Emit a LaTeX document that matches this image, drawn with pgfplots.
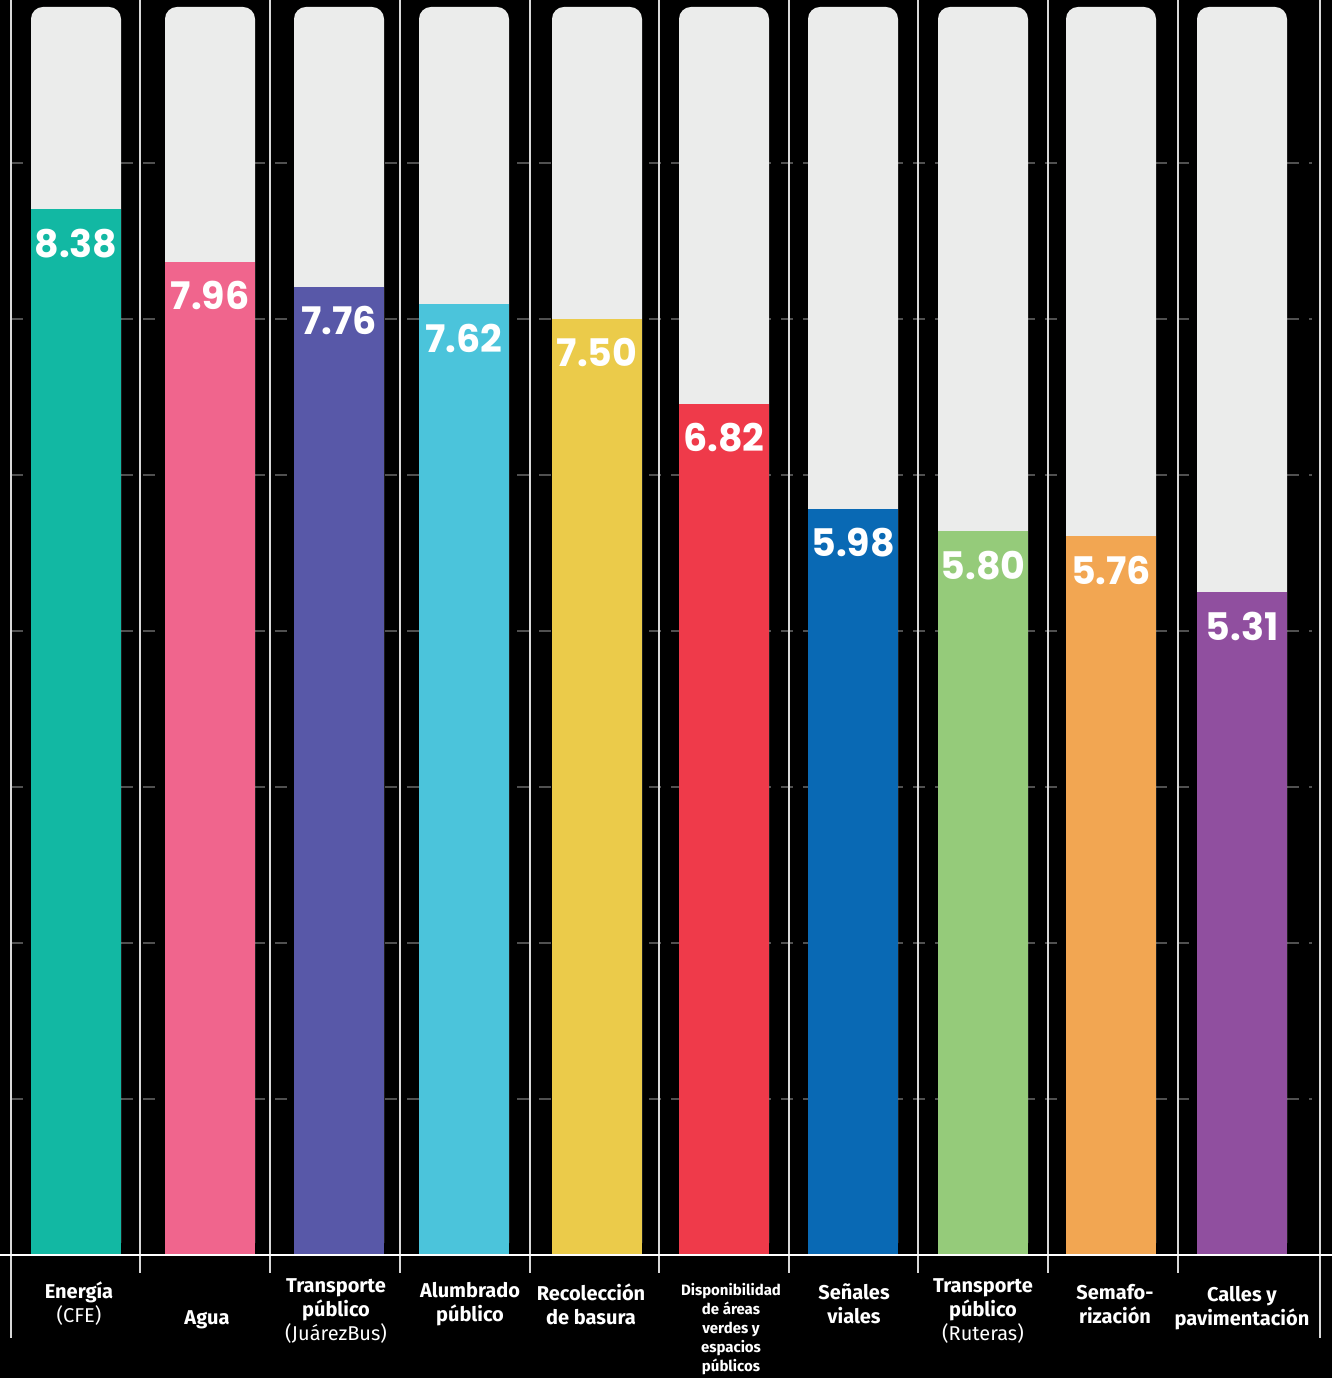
\documentclass[border=0pt]{standalone}
\usepackage{pgfplots}
\pgfplotsset{compat=1.18}
\usepackage{fontspec}
\setmainfont{Fira Sans}
\newfontfamily\numfont{Poppins}
\definecolor{bgray}{HTML}{EBECEB}
\definecolor{gridc}{HTML}{505050}
\definecolor{sepc}{HTML}{D8D8D8}
\definecolor{c1}{HTML}{12B8A3}
\definecolor{c2}{HTML}{F0658D}
\definecolor{c3}{HTML}{5858A8}
\definecolor{c4}{HTML}{4BC4DB}
\definecolor{c5}{HTML}{EBCB4A}
\definecolor{c6}{HTML}{EF3A4A}
\definecolor{c7}{HTML}{0969B4}
\definecolor{c8}{HTML}{95CB7A}
\definecolor{c9}{HTML}{F2A652}
\definecolor{c10}{HTML}{904F9F}
\begin{document}
\begin{tikzpicture}
\begin{axis}[
  scale only axis, width=666pt, height=689pt,
  xmin=0, xmax=1332, ymin=-0.9856, ymax=10.056,
  axis background/.style={fill=black},
  axis line style={draw=none}, tick style={draw=none},
  xtick=\empty, ytick=\empty,
  ybar, bar width=45pt,
  every node near coord/.append style={anchor=center, yshift=-17pt, text=white, font=\numfont\bfseries\fontsize{19}{22}\selectfont},
]
% grid lines
\pgfplotsinvokeforeach{1.25,2.5,3.75,5,6.25,7.5,8.75}{
  \addplot[sharp plot, gridc, line width=0.6pt, dash pattern=on 6pt off 5pt, forget plot] coordinates {(11,#1) (1312,#1)};
}
% separators
\pgfplotsinvokeforeach{140,270,400,530,659,789,918,1048,1178}{
  \addplot[sharp plot, sepc, line width=0.8pt, forget plot] coordinates {(#1,10.2) (#1,-0.144)};
}
\addplot[sharp plot, sepc, line width=0.8pt, forget plot] coordinates {(11,10.2) (11,-0.665)};
\addplot[sharp plot, sepc, line width=0.8pt, forget plot] coordinates {(1320,10.2) (1320,-0.665)};
% background bars
\addplot[fill=bgray, draw=none, rounded corners=6pt, bar shift=0pt] coordinates {
 (76,10) (210,10) (339,10) (464,10) (597,10) (724,10) (853,10) (983,10) (1111,10) (1242,10)};
% value bars
\addplot[fill=c1, draw=none, bar shift=0pt, nodes near coords, point meta=explicit symbolic] coordinates {(76,8.38) [8.38]};
\addplot[fill=c2, draw=none, bar shift=0pt, nodes near coords, point meta=explicit symbolic] coordinates {(210,7.96) [7.96]};
\addplot[fill=c3, draw=none, bar shift=0pt, nodes near coords, point meta=explicit symbolic] coordinates {(339,7.76) [7.76]};
\addplot[fill=c4, draw=none, bar shift=0pt, nodes near coords, point meta=explicit symbolic] coordinates {(464,7.62) [7.62]};
\addplot[fill=c5, draw=none, bar shift=0pt, nodes near coords, point meta=explicit symbolic] coordinates {(597,7.50) [7.50]};
\addplot[fill=c6, draw=none, bar shift=0pt, nodes near coords, point meta=explicit symbolic] coordinates {(724,6.82) [6.82]};
\addplot[fill=c7, draw=none, bar shift=0pt, nodes near coords, point meta=explicit symbolic] coordinates {(853,5.98) [5.98]};
\addplot[fill=c8, draw=none, bar shift=0pt, nodes near coords, point meta=explicit symbolic] coordinates {(983,5.80) [5.80]};
\addplot[fill=c9, draw=none, bar shift=0pt, nodes near coords, point meta=explicit symbolic] coordinates {(1111,5.76) [5.76]};
\addplot[fill=c10, draw=none, bar shift=0pt, nodes near coords, point meta=explicit symbolic] coordinates {(1242,5.31) [5.31]};
% baseline
\addplot[sharp plot, white, line width=1pt] coordinates {(0,0) (1332,0)};
% category labels
\begin{scope}[every node/.style={text=white, align=center, font=\fontsize{10}{12}\selectfont}]
\node at (axis cs:79,-0.3926) {\textbf{Energía}\\(CFE)};
\node at (axis cs:207,-0.5208) {\textbf{Agua}};
\node at (axis cs:336,-0.4487) {\textbf{Transporte}\\\textbf{público}\\(JuárezBus)};
\node at (axis cs:470,-0.3926) {\textbf{Alumbrado}\\\textbf{público}};
\node at (axis cs:591,-0.3926) {\textbf{Recolección}\\\textbf{de basura}};
\node[font=\fontsize{7.5}{9.5}\selectfont\bfseries] at (axis cs:731,-0.593) {Disponibilidad\\de áreas\\verdes y\\espacios\\públicos};
\node at (axis cs:854,-0.3926) {\textbf{Señales}\\\textbf{viales}};
\node at (axis cs:983,-0.4487) {\textbf{Transporte}\\\textbf{público}\\(Ruteras)};
\node at (axis cs:1115,-0.3926) {\textbf{Semafo-}\\\textbf{rización}};
\node at (axis cs:1242,-0.4247) {\textbf{Calles y}\\\textbf{pavimentación}};
\end{scope}
\end{axis}
\end{tikzpicture}
\end{document}
